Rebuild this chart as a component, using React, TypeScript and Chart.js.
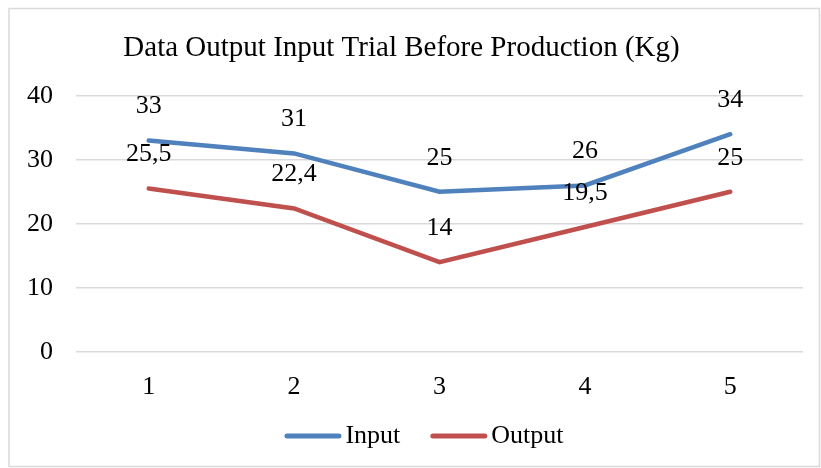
import React, { useEffect, useRef } from "react";
import { Chart, registerables } from "chart.js";

Chart.register(...registerables);

const categories = ["1", "2", "3", "4", "5"];
const inputValues = [33, 31, 25, 26, 34];
const outputValues = [25.5, 22.4, 14, 19.5, 25];
const seriesNames = ["Input", "Output"];
const chartTitle = "Data Output Input Trial Before Production (Kg)";

const FONT = "'Liberation Serif', 'Times New Roman', serif";

const borderPlugin = {
  id: "frameBorder",
  beforeDraw(chart: any) {
    const ctx = chart.ctx;
    ctx.save();
    ctx.fillStyle = "#ffffff";
    ctx.fillRect(0, 0, chart.width, chart.height);
    ctx.strokeStyle = "#D9D9D9";
    ctx.lineWidth = 1.5;
    ctx.strokeRect(9, 8.5, 810.5, 458);
    ctx.restore();
  },
};

const labelPlugin = {
  id: "valueLabels",
  afterDatasetsDraw(chart: any) {
    const ctx = chart.ctx;
    ctx.save();
    ctx.font = `26px ${FONT}`;
    ctx.fillStyle = "#000000";
    ctx.textAlign = "center";
    ctx.textBaseline = "middle";
    chart.data.datasets.forEach((ds: any, i: number) => {
      const meta = chart.getDatasetMeta(i);
      meta.data.forEach((pt: any, j: number) => {
        const v = ds.data[j];
        const txt = String(v).replace(".", ",");
        ctx.fillText(txt, pt.x, pt.y - 34);
      });
    });
    ctx.restore();
  },
};

const legendPlugin = {
  id: "customLegend",
  afterDraw(chart: any) {
    const ctx = chart.ctx;
    ctx.save();
    ctx.font = `26px ${FONT}`;
    ctx.textBaseline = "middle";
    ctx.textAlign = "left";
    const box = 57;
    const gap = 4;
    const itemGap = 30;
    const ds = chart.data.datasets;
    const widths = ds.map((d: any) => ctx.measureText(d.label).width);
    let total = 0;
    widths.forEach((w: number, i: number) => {
      total += box + gap + w + (i > 0 ? itemGap : 0);
    });
    const cy = 436;
    let x = 424 - total / 2;
    ds.forEach((d: any, i: number) => {
      ctx.strokeStyle = d.borderColor;
      ctx.lineWidth = 5;
      ctx.lineCap = "round";
      ctx.beginPath();
      ctx.moveTo(x + 2.5, cy);
      ctx.lineTo(x + box - 2.5, cy);
      ctx.stroke();
      ctx.fillStyle = "#000000";
      ctx.fillText(d.label, x + box + gap, cy);
      x += box + gap + widths[i] + itemGap;
    });
    ctx.restore();
  },
};

export default function App() {
  const ref = useRef<HTMLCanvasElement>(null);
  useEffect(() => {
    const canvas = ref.current!;
    const chart = new Chart(canvas, {
      type: "line",
      data: {
        labels: categories,
        datasets: [
          {
            label: seriesNames[0],
            data: inputValues,
            borderColor: "#4F81BD",
            backgroundColor: "#4F81BD",
            borderWidth: 4.5,
            pointRadius: 0,
            borderCapStyle: "round",
            tension: 0,
          },
          {
            label: seriesNames[1],
            data: outputValues,
            borderColor: "#C0504D",
            backgroundColor: "#C0504D",
            borderWidth: 4.5,
            pointRadius: 0,
            borderCapStyle: "round",
            tension: 0,
          },
        ],
      },
      options: {
        responsive: false,
        animation: false,
        layout: { padding: { left: 0, right: 18, top: 0, bottom: 53 } },
        plugins: {
          title: {
            display: true,
            text: chartTitle,
            color: "#000000",
            font: { family: FONT, size: 29, weight: "normal" },
            padding: { top: 31, bottom: 30 },
          },
          legend: { display: false },
          tooltip: { enabled: false },
        },
        scales: {
          x: {
            offset: true,
            grid: { display: false, offset: true },
            border: { display: false },
            ticks: { color: "#000000", font: { family: FONT, size: 26 }, padding: 12 },
          },
          y: {
            min: 0,
            max: 40,
            ticks: {
              stepSize: 10,
              color: "#000000",
              font: { family: FONT, size: 26 },
              padding: 23,
            },
            grid: { color: "#D9D9D9", lineWidth: 1.5, drawTicks: false },
            border: { display: false },
            afterFit: (s: any) => {
              s.width = 76;
            },
          },
        },
      },
      plugins: [borderPlugin, labelPlugin, legendPlugin],
    });
    return () => chart.destroy();
  }, []);
  return (
    <div style={{ position: "fixed", left: 0, top: 0, width: 821, height: 468 }}>
      <canvas ref={ref} width={821} height={468} />
    </div>
  );
}
